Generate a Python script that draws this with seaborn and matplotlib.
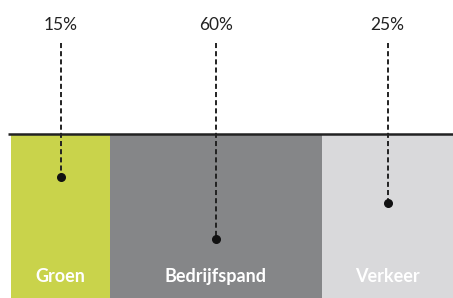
import numpy as np
import pandas as pd
import matplotlib
matplotlib.use("Agg")
import matplotlib.pyplot as plt
import seaborn as sns

# data
categories = ["Groen", "Bedrijfspand", "Verkeer"]
shares = [15, 60, 25]
seg_widths = [99, 212, 131]          # drawn widths of the segments
dot_depth = [0.26, 0.64, 0.42]       # where the pointer dot sits inside the bar (0 = top, 1 = bottom)
colors = ["#c9d34b", "#858688", "#d9d9db"]

sns.set_theme(style="white")
plt.rcParams["font.family"] = ["Lato", "DejaVu Sans"]

fig = plt.figure(figsize=(4.53, 2.98), dpi=100)
ax = fig.add_axes([0, 0, 1, 1])

df = pd.DataFrame({"cat": categories, "share": shares, "width": seg_widths,
                   "depth": dot_depth, "color": colors})
df["end"] = df["width"].cumsum()
df["start"] = df["end"] - df["width"]
df["mid"] = (df["start"] + df["end"]) / 2

# stacked bar: draw cumulative totals from longest to shortest
for i in reversed(range(len(df))):
    sns.barplot(x=[df["end"][i]], y=["bar"], color=df["color"][i], orient="h",
                width=1.0, saturation=1, linewidth=0, edgecolor="none", ax=ax)

top = -0.5
bottom = 0.5
ax.set_xlim(-11, 442)
ax.set_ylim(bottom, top - 0.82)

# base line on top of the bar
ax.plot([-3, 442], [top, top], color="#222222", lw=1.8, zorder=5, solid_capstyle="butt")

for _, r in df.iterrows():
    ydot = top + r["depth"]
    ax.plot([r["mid"], r["mid"]], [top - 0.56, ydot], color="#222222", lw=1.4,
            ls=(0, (2.6, 1.6)), zorder=6)
    ax.scatter([r["mid"]], [ydot], s=30, color="#111111", zorder=7)
    ax.text(r["mid"], top - 0.67, f"{r['share']}%", ha="center", va="center",
            fontsize=12.5, color="#222222")
    ax.text(r["mid"], top + 0.87, r["cat"], ha="center", va="center",
            fontsize=13, fontweight="bold", color="white")

ax.axis("off")
fig.savefig("out.png", dpi=100)
